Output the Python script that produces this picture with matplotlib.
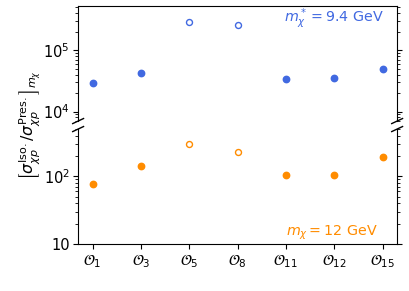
import numpy as np
import matplotlib
matplotlib.use("Agg")
import matplotlib.pyplot as plt

# operators on the x axis
labels = [r"$\mathcal{O}_{1}$", r"$\mathcal{O}_{3}$", r"$\mathcal{O}_{5}$", r"$\mathcal{O}_{8}$",
          r"$\mathcal{O}_{11}$", r"$\mathcal{O}_{12}$", r"$\mathcal{O}_{15}$"]
# ratio at m* = 9.4 GeV (top) and m = 12 GeV (bottom)
ratio_top = [2.95e4, 4.2e4, 2.92e5, 2.57e5, 3.43e4, 3.56e4, 4.9e4]
ratio_bot = [78, 141, 296, 227, 103.5, 106, 191]
# open symbols for O5 and O8
is_open = [False, False, True, True, False, False, False]

blue = "#4169E1"
orange = "#FF8C00"
fs = 10.5

fig = plt.figure(figsize=(4.09, 2.91), dpi=100)
ax1 = fig.add_axes([0.191, 0.584, 0.78, 0.395])
ax2 = fig.add_axes([0.191, 0.1615, 0.78, 0.395])

x = np.arange(len(labels))
for ax, vals, col in [(ax1, ratio_top, blue), (ax2, ratio_bot, orange)]:
    for xi, v, op in zip(x, vals, is_open):
        if op:
            ax.plot(xi, v, 'o', ms=4.3, mfc='none', mec=col, mew=1.0)
        else:
            ax.plot(xi, v, 'o', ms=4.6, color=col)
    ax.set_yscale('log')
    ax.set_xlim(-0.3, 6.3)
    ax.yaxis.set_ticks_position('both')
    ax.tick_params(labelsize=fs, pad=2.5)

ax1.set_ylim(7e3, 5.2e5)
ax2.set_ylim(10, 5e2)

ax1.spines['bottom'].set_visible(False)
ax2.spines['top'].set_visible(False)
ax1.tick_params(axis='x', bottom=False, labelbottom=False)
ax2.set_xticks(x)
ax2.set_xticklabels(labels)
ax2.set_yticks([10, 100])
ax2.set_yticklabels(["10", r"$10^2$"])

# break marks
dx, dy = 0.017, 0.022
kw = dict(color='k', clip_on=False, lw=1)
ax1.plot((-dx, dx), (-dy, dy), transform=ax1.transAxes, **kw)
ax1.plot((1 - dx, 1 + dx), (-dy, dy), transform=ax1.transAxes, **kw)
ax2.plot((-dx, dx), (1 - dy, 1 + dy), transform=ax2.transAxes, **kw)
ax2.plot((1 - dx, 1 + dx), (1 - dy, 1 + dy), transform=ax2.transAxes, **kw)

ax1.text(0.96, 0.89, r"$m_\chi^* = 9.4$ GeV", color=blue, fontsize=10.3,
         ha='right', va='center', transform=ax1.transAxes)
ax2.text(0.94, 0.1, r"$m_\chi = 12$ GeV", color=orange, fontsize=10.3,
         ha='right', va='center', transform=ax2.transAxes)

fig.text(0.074, 0.57, r"$\left[\sigma_{\chi p}^{\rm Iso.}/\sigma_{\chi p}^{\rm Pres.}\right]_{m_\chi}$",
         rotation=90, ha='center', va='center', fontsize=11.4)

fig.savefig("out.png", dpi=100)
